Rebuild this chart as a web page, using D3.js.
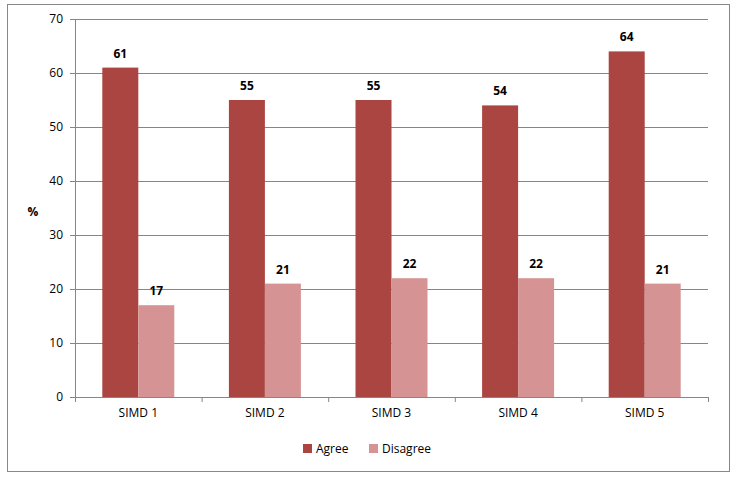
<!DOCTYPE html>
<html><head><meta charset="utf-8">
<script src="https://cdn.jsdelivr.net/npm/d3@7"></script>
<style>body{margin:0;background:#fff}text{font-family:"Open Sans","DejaVu Sans",sans-serif}</style>
</head><body><svg id="c" width="736" height="480"></svg>
<script>
const categories=["SIMD 1","SIMD 2","SIMD 3","SIMD 4","SIMD 5"];
const agree=[61,55,55,54,64];
const disagree=[17,21,22,22,21];
const seriesNames=["Agree","Disagree"];
const colors=["#AB4541","#D59493"];
const yTicks=[0,10,20,30,40,50,60,70];

const svg=d3.select("#c");
svg.append("rect").attr("x",7.5).attr("y",4.5).attr("width",722).attr("height",467).attr("fill","#fff").attr("stroke","#888");
const L=75,R=708,T=19,B=397;
const x=d3.scaleBand().domain(categories).range([L,R]);
const y=d3.scaleLinear().domain([0,70]).range([B,T]);
const g=svg.append("g");
yTicks.forEach(t=>{
 g.append("line").attr("x1",L-5).attr("x2",R).attr("y1",y(t)+.5).attr("y2",y(t)+.5).attr("stroke",t===0?"#868686":"#868686");
 g.append("text").attr("x",L-12).attr("y",y(t)+4).attr("text-anchor","end").attr("font-size",12).text(t);
});
g.append("line").attr("x1",L+.5).attr("x2",L+.5).attr("y1",T).attr("y2",B).attr("stroke","#868686");
categories.forEach((c,i)=>{
 const x0=x(c);
 g.append("line").attr("x1",x0+x.bandwidth()+.5).attr("x2",x0+x.bandwidth()+.5).attr("y1",B).attr("y2",B+5).attr("stroke","#868686");
 if(i===0)g.append("line").attr("x1",x0+.5).attr("x2",x0+.5).attr("y1",B).attr("y2",B+5).attr("stroke","#868686");
 g.append("text").attr("x",x0+x.bandwidth()/2).attr("y",B+20).attr("text-anchor","middle").attr("font-size",12).text(c);
 const cx=x0+x.bandwidth()/2, w=36;
 [agree[i],disagree[i]].forEach((v,k)=>{
  const bx=k===0?cx-w:cx;
  g.append("rect").attr("x",bx).attr("y",y(v)).attr("width",w).attr("height",B-y(v)).attr("fill",colors[k]);
  g.append("text").attr("x",bx+w/2).attr("y",y(v)-10).attr("text-anchor","middle").attr("font-size",12).attr("font-weight","bold").text(v);
 });
});
g.append("text").attr("x",33).attr("y",216).attr("text-anchor","middle").attr("font-size",12).attr("font-weight","bold").text("%");
const lg=[[303,"Agree"],[369,"Disagree"]];
lg.forEach(([lx,n],k)=>{
 svg.append("rect").attr("x",lx).attr("y",444).attr("width",9).attr("height",9).attr("fill",colors[k]);
 svg.append("text").attr("x",lx+13).attr("y",453).attr("font-size",12).text(n);
});
</script></body></html>
